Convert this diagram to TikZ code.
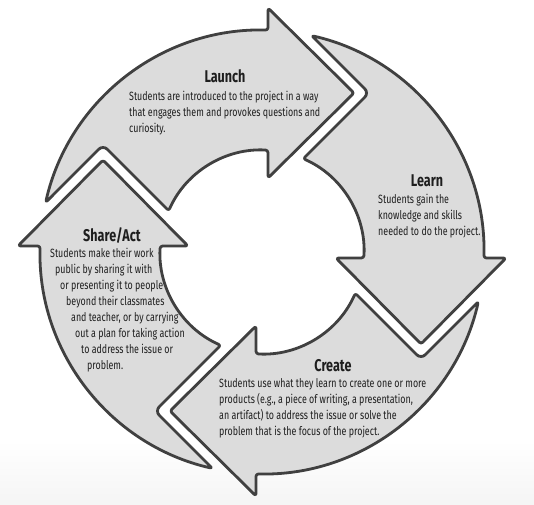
\documentclass[tikz,border=0pt]{standalone}
\usepackage{fontspec}
\setmainfont{Fira Sans}[FakeStretch=0.74]
\definecolor{arrowfill}{HTML}{DCDCDC}
\definecolor{arrowline}{HTML}{404040}
\definecolor{textcol}{HTML}{1E1E1E}
\begin{document}
\begin{tikzpicture}[x=1pt,y=1pt,
  arrowshape/.style={draw=arrowline, fill=arrowfill, line width=2.8pt, rounded corners=2.5pt, line join=round},
  titletext/.style={font=\bfseries\fontsize{17}{20}\selectfont, text=textcol, inner sep=0pt, anchor=base},
  bodytext/.style={font=\fontsize{12}{16}\selectfont, text=textcol, inner sep=0pt, align=left, anchor=north west},
  linetext/.style={font=\fontsize{12}{16}\selectfont, text=textcol, inner sep=0pt, anchor=base west}]
\useasboundingbox (0,0) rectangle (534,504);
\fill[white] (0,0) rectangle (534,504);
\shade[top color=white, bottom color=gray!8] (0,0) rectangle (534,64);
% four curved arrows, each a copy of the "Launch" arrow turned by 90 degrees
\foreach \k in {0,1,2,3} {
  \begin{scope}[shift={(262,252)}, rotate=-90*\k]
    \path[arrowshape] (167.09:222) arc[start angle=167.09, end angle=88.45, radius=222]
      -- (6,244) -- (92,159) -- (6,74) -- (86.63:102)
      arc[start angle=86.63, end angle=156.13, radius=102]
      [rounded corners=6pt] -- (-159,107) [rounded corners=2.5pt] -- cycle;
  \end{scope}
}
% Launch
\node[titletext] (launchT) at (225,421) {Launch};
\node[bodytext] (launchB) at (129,413) {Students are introduced to the project in a way\\that engages them and provokes questions and\\curiosity.};
% Learn
\node[titletext] (learnT) at (427,318) {Learn};
\node[bodytext] (learnB) at (378,310) {Students gain the\\knowledge and skills\\needed to do the project.};
% Create
\node[titletext] (createT) at (333,133) {Create};
\node[bodytext] (createB) at (219,126) {Students use what they learn to create one or more\\products (e.g., a piece of writing, a presentation,\\an artifact) to address the issue or solve the\\problem that is the focus of the project.};
% Share/Act
\node[titletext] (shareT) at (112,263) {Share/Act};
\node[linetext] (share1) at (50,247) {Students make their work};
\node[linetext] (share2) at (55,231) {public by sharing it with};
\node[linetext] (share3) at (60,215) {or presenting it to people};
\node[linetext] (share4) at (66,199) {beyond their classmates};
\node[linetext] (share5) at (71,183) {and teacher, or by carrying};
\node[linetext] (share6) at (75,167) {out a plan for taking action};
\node[linetext] (share7) at (81,151) {to address the issue or};
\node[linetext] (share8) at (87,135) {problem.};
\end{tikzpicture}
\end{document}
